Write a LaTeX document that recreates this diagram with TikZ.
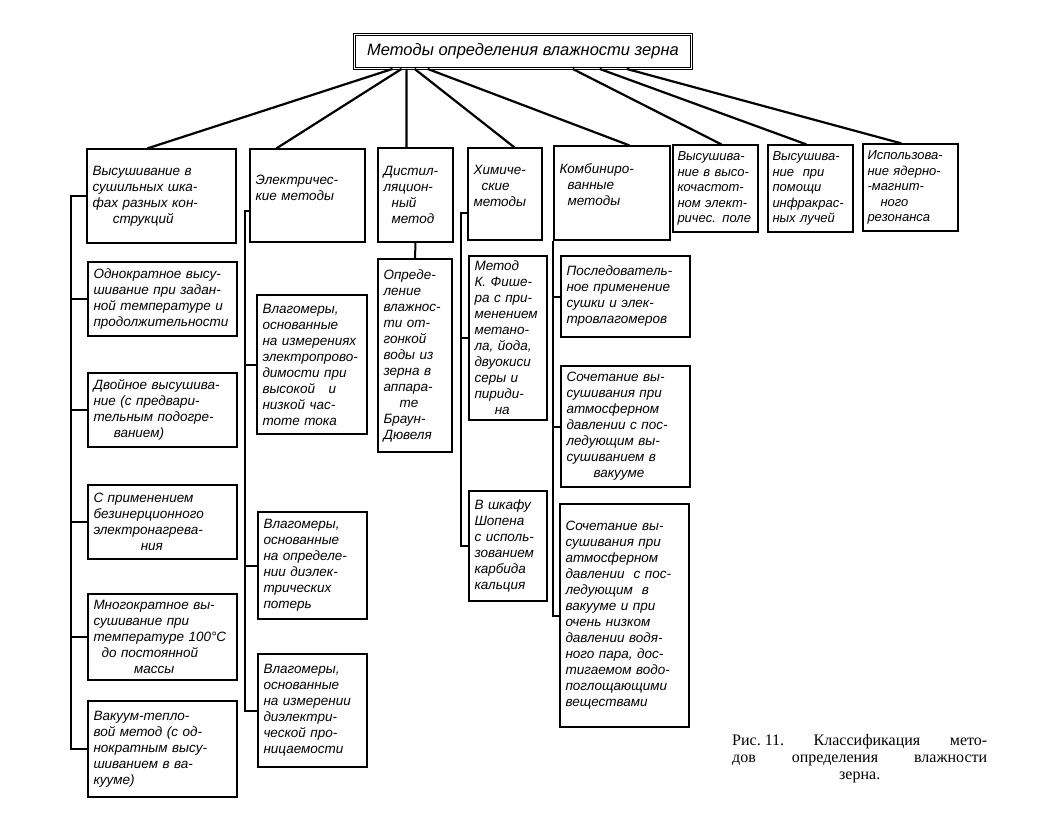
\documentclass[tikz,border=0pt]{standalone}
\usepackage{fontspec}
\newfontfamily\handfont{Liberation Sans}
\newfontfamily\capfont{Liberation Serif}
\begin{document}
\begin{tikzpicture}[x=1pt, y=-1pt,
  box/.style={draw, line width=1.2pt, align=left, inner xsep=5.5pt, inner ysep=3pt, font=\handfont\itshape\fontsize{13.5}{16}\selectfont},
  smallbox/.style={box, inner xsep=4pt, font=\handfont\itshape\fontsize{13}{15.5}\selectfont},
  link/.style={line width=2.2pt},
  bus/.style={line width=2pt}]
\useasboundingbox (0,0) rectangle (1052,822);

% Define the root node
\node[box, double, double distance=1.6pt, line width=0.8pt, minimum width=337pt, minimum height=34pt, align=center, font=\handfont\itshape\fontsize{16.5}{18}\selectfont] (root) at (523, 51.5) {Методы определения влажности зерна};

% Groups of methods
\node[box, text width=138pt, minimum width=149pt, minimum height=94pt] (m1) at (161.5, 196) {Высушивание в\\ сушильных шка-\\ фах разных кон-\\ \hspace*{1.5em}струкций};
\node[box, text width=104pt, minimum width=115pt, minimum height=93pt] (m2) at (307.5, 195.5) {Электричес-\\ кие методы\\ \mbox{}};
\node[box, text width=64pt, minimum width=75pt, minimum height=94pt] (m3) at (415.5, 195) {Дистил-\\ ляцион-\\ \hspace*{0.6em}ный\\ \hspace*{0.6em}метод};
\node[box, text width=63pt, minimum width=74pt, minimum height=92pt] (m4) at (505, 194) {Химиче-\\ \hspace*{0.6em}ские\\ методы\\ \mbox{}};
\node[box, text width=105pt, minimum width=116pt, minimum height=94pt] (m5) at (612, 193) {Комбиниро-\\ \hspace*{0.6em}ванные\\ \hspace*{0.6em}методы\\ \mbox{}};
\node[smallbox, text width=76pt, minimum width=85pt, minimum height=87pt] (m6) at (715.5, 188.5) {Высушива-\\ ние в высо-\\ кочастот-\\ ном элект-\\ ричес. поле};
\node[smallbox, text width=76pt, minimum width=85pt, minimum height=87pt] (m7) at (810.5, 188.5) {Высушива-\\ ние \ при\\ помощи\\ инфракрас-\\ ных лучей};
\node[smallbox, text width=86pt, minimum width=95pt, minimum height=87pt] (m8) at (910.5, 187.5) {Использова-\\ ние ядерно-\\ -магнит-\\ \hspace*{1em}ного\\ резонанса};

\draw[link] ([xshift=38.5pt]root.south west) -- ([xshift=61pt]m1.north west);
\draw[link] ([xshift=47.5pt]root.south west) -- ([xshift=27pt]m2.north west);
\draw[link] ([xshift=52.5pt]root.south west) -- ([xshift=29pt]m3.north west);
\draw[link] ([xshift=60.5pt]root.south west) -- ([xshift=47pt]m4.north west);
\draw[link] ([xshift=73.5pt]root.south west) -- ([xshift=76pt]m5.north west);
\draw[link] ([xshift=218.5pt]root.south west) -- ([xshift=49pt]m6.north west);
\draw[link] ([xshift=245.5pt]root.south west) -- ([xshift=39pt]m7.north west);
\draw[link] ([xshift=272.5pt]root.south west) -- ([xshift=39pt]m8.north west);

% Drying in ovens
\node[box, text width=138pt, minimum width=149pt, minimum height=74pt] (m1_1) at (162.5, 299) {Однократное высу-\\ шивание при задан-\\ ной температуре и\\ продолжительности};
\node[box, text width=138pt, minimum width=149pt, minimum height=74pt] (m1_2) at (162.5, 410) {Двойное высушива-\\ ние (с предвари-\\ тельным подогре-\\ \hspace*{1.5em}ванием)};
\node[box, text width=138pt, minimum width=149pt, minimum height=74pt] (m1_3) at (162.5, 522) {С применением\\ безинерционного\\ электронагрева-\\ \hspace*{3.5em}ния};
\node[box, text width=138pt, minimum width=149pt, minimum height=86pt] (m1_4) at (162.5, 637) {Многократное вы-\\ сушивание при\\ температуре 100°С\\ \hspace*{0.6em}до постоянной\\ \hspace*{3em}массы};
\node[box, text width=138pt, minimum width=149pt, minimum height=96pt] (m1_5) at (162.5, 749) {Вакуум-тепло-\\ вой метод (с од-\\ нократным высу-\\ шиванием в ва-\\ кууме)};

\coordinate (b1) at (71, 0);
\draw[bus] (m1.west) -- (m1.west -| b1) -- (b1 |- m1_5.west) -- (m1_5.west);
\draw[bus] (b1 |- m1_1.west) -- (m1_1.west);
\draw[bus] (b1 |- m1_2.west) -- (m1_2.west);
\draw[bus] (b1 |- m1_3.west) -- (m1_3.west);
\draw[bus] (b1 |- m1_4.west) -- (m1_4.west);

% Electric moisture meters
\node[box, text width=99pt, minimum width=110pt, minimum height=139pt] (m2_1) at (312, 364.5) {Влагомеры,\\ основанные\\ на измерениях\\ электропрово-\\ димости при\\ высокой \ \ и\\ низкой час-\\ тоте тока};
\node[box, text width=98pt, minimum width=109pt, minimum height=107pt] (m2_2) at (312.5, 565.5) {Влагомеры,\\ основанные\\ на определе-\\ нии диэлек-\\ трических\\ потерь};
\node[box, text width=98pt, minimum width=109pt, minimum height=113pt] (m2_3) at (312.5, 710.5) {Влагомеры,\\ основанные\\ на измерении\\ диэлектри-\\ ческой про-\\ ницаемости};

\coordinate (b2) at (245, 211);
\draw[bus] (b2 -| m2.west) -- (b2) -- (b2 |- m2_3.west) -- (m2_3.west);
\draw[bus] (b2 |- m2_1.west) -- (m2_1.west);
\draw[bus] (b2 |- m2_2.west) -- (m2_2.west);

% Distillation
\node[box, text width=63pt, minimum width=74pt, minimum height=193pt] (m3_1) at (415, 355.5) {Опреде-\\ ление\\ влажнос-\\ ти от-\\ гонкой\\ воды из\\ зерна в\\ аппара-\\ \hspace*{1.2em}те\\ Браун-\\ Дювеля};
\draw[bus] (m3.south) -- (m3_1.north);

% Chemical methods
\node[box, text width=67pt, minimum width=78pt, minimum height=164pt] (m4_1) at (508, 338) {Метод\\ К. Фише-\\ ра с при-\\ менением\\ метано-\\ ла, йода,\\ двуокиси\\ серы и\\ пириди-\\ \hspace*{1.5em}на};
\node[box, text width=67pt, minimum width=78pt, minimum height=110pt] (m4_2) at (508, 546) {В шкафу\\ Шопена\\ с исполь-\\ зованием\\ карбида\\ кальция};

\coordinate (b4) at (461, 213);
\draw[bus] (b4 -| m4.west) -- (b4) -- (b4 |- m4_2.west) -- (m4_2.west);
\draw[bus] (b4 |- m4_1.west) -- (m4_1.west);

% Combined methods
\node[box, text width=118pt, minimum width=129pt, minimum height=81pt] (m5_1) at (625.5, 296.5) {Последователь-\\ ное применение\\ сушки и элек-\\ тровлагомеров};
\node[box, text width=118pt, minimum width=129pt, minimum height=121pt] (m5_2) at (625.5, 426.5) {Сочетание вы-\\ сушивания при\\ атмосферном\\ давлении с пос-\\ ледующим вы-\\ сушиванием в\\ \hspace*{2em}вакууме};
\node[box, text width=118pt, minimum width=129pt, minimum height=223pt] (m5_3) at (624.5, 615.5) {Сочетание вы-\\ сушивания при\\ атмосферном\\ давлении \ с пос-\\ ледующим \ в\\ вакууме и при\\ очень низком\\ давлении водя-\\ ного пара, дос-\\ тигаемом водо-\\ поглощающими\\ веществами};

\draw[bus] (m5.south west) -- (m5.south west |- m5_3.west) -- (m5_3.west);
\draw[bus] (m5.south west |- m5_1.west) -- (m5_1.west);
\draw[bus] (m5.south west |- m5_2.west) -- (m5_2.west);

% Caption
\node[anchor=north west, inner sep=0pt, text width=255pt, align=justify, font=\capfont\fontsize{16}{17}\selectfont] (cap) at (732, 734) {Рис.~11.\hfill Классификация\hfill мето-\\ дов\hfill определения\hfill влажности\\ \hspace*{\fill}зерна.\hspace*{\fill}\null};

\end{tikzpicture}
\end{document}
